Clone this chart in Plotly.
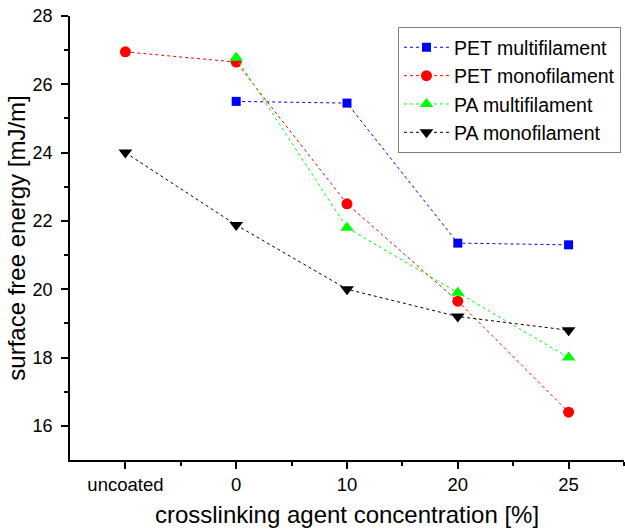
import plotly.graph_objects as go

categories = ["uncoated", "0", "10", "20", "25"]
pet_multi = [None, 25.5, 25.45, 21.35, 21.3]
pet_mono = [26.95, 26.65, 22.5, 19.65, 16.4]
pa_multi = [None, 26.78, 21.8, 19.9, 18.0]
pa_mono = [24.0, 21.88, 20.0, 19.2, 18.8]

xs = list(range(len(categories)))

series = [
    ("PET multifilament", pet_multi, "#0000ff", "square", 9),
    ("PET monofilament", pet_mono, "#ff0000", "circle", 11),
    ("PA multifilament", pa_multi, "#00ff00", "triangle-up", 12),
    ("PA monofilament", pa_mono, "#000000", "triangle-down", 12),
]

fig = go.Figure()
for name, vals, col, sym, sz in series:
    px = [x for x, v in zip(xs, vals) if v is not None]
    py = [v for v in vals if v is not None]
    fig.add_trace(go.Scatter(
        x=px, y=py, name=name, mode="lines+markers",
        line=dict(color=col, width=1, dash="dot"),
        marker=dict(color=col, symbol=sym, size=sz, line=dict(width=0)),
    ))

fig.update_layout(
    width=625, height=532,
    margin=dict(l=70, r=1, t=16, b=72),
    paper_bgcolor="white", plot_bgcolor="white",
    font=dict(family="Arial, Liberation Sans, sans-serif", color="black", size=15),
    legend=dict(
        x=0.592, y=0.975, xanchor="left", yanchor="top",
        bordercolor="#808080", borderwidth=1, bgcolor="white",
        font=dict(size=19.5), tracegroupgap=0, itemwidth=45,
    ),
    showlegend=True,
)
fig.update_xaxes(
    range=[-0.5, 4.5], tickvals=xs, ticktext=categories,
    showline=True, linecolor="black", linewidth=1.5, mirror=False,
    ticks="outside", ticklen=7, tickwidth=1.5, tickcolor="black",
    showgrid=False, zeroline=False, automargin=False,
    tickfont=dict(size=18.5), ticklabelstandoff=0,
    title=dict(text="crosslinking agent concentration [%]", font=dict(size=24), standoff=12),
    minor=dict(tickvals=[0.5, 1.5, 2.5, 3.5, 4.5], ticks="outside", ticklen=4, tickwidth=1.5, tickcolor="black", showgrid=False),
)
fig.update_yaxes(
    range=[15, 28], tickvals=[16, 18, 20, 22, 24, 26, 28],
    showline=True, linecolor="black", linewidth=1.5,
    ticks="outside", ticklen=7, tickwidth=1.5, tickcolor="black",
    showgrid=False, zeroline=False, automargin=False,
    tickfont=dict(size=18), ticklabelstandoff=5,
    title=dict(text="surface free energy [mJ/m]", font=dict(size=24), standoff=0),
    minor=dict(tickvals=[17, 19, 21, 23, 25, 27], ticks="outside", ticklen=4, tickwidth=1.5, tickcolor="black", showgrid=False),
)

fig.write_html("out.html")
